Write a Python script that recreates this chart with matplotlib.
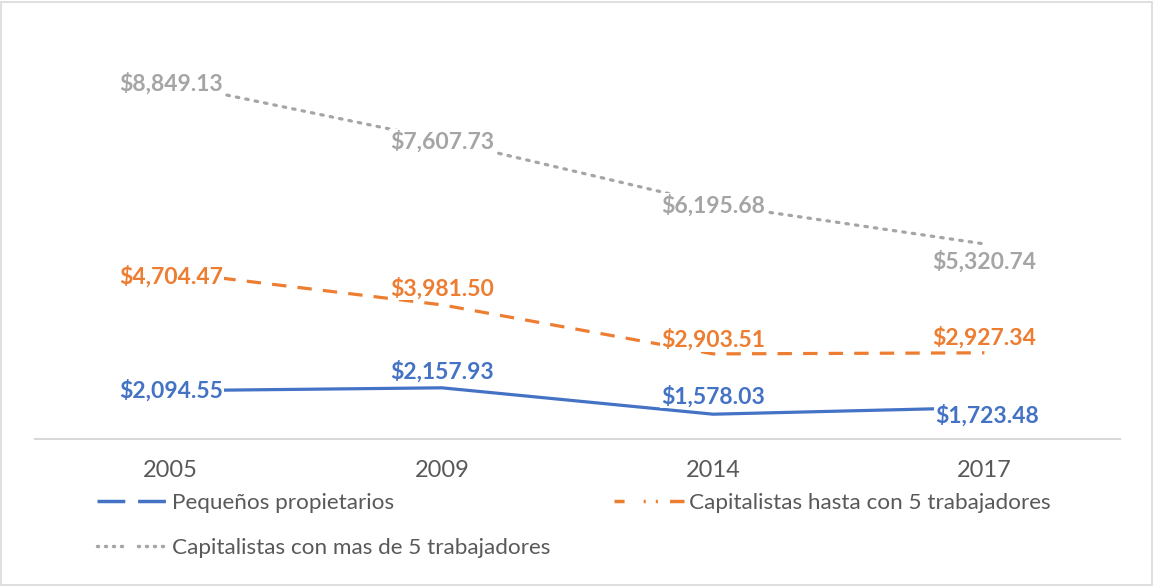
import matplotlib
matplotlib.use("Agg")
import matplotlib.pyplot as plt
from matplotlib.lines import Line2D
from matplotlib.patches import Rectangle

years = ["2005", "2009", "2014", "2017"]
pequenos = [2094.55, 2157.93, 1578.03, 1723.48]
hasta5 = [4704.47, 3981.50, 2903.51, 2927.34]
mas5 = [8849.13, 7607.73, 6195.68, 5320.74]

series_names = ["Pequeños propietarios",
                "Capitalistas hasta con 5 trabajadores",
                "Capitalistas con mas de 5 trabajadores"]
colors = ["#4472C4", "#ED7D31", "#A5A5A5"]

plt.rcParams['font.family'] = ['Lato', 'DejaVu Sans']

W, H = 1154, 586
fig = plt.figure(figsize=(W / 100, H / 100), dpi=100)
ax = fig.add_axes([35 / W, (H - 439) / H, (1120 - 35) / W, (439 - 20) / H])

x = list(range(len(years)))
ax.plot(x, pequenos, color=colors[0], lw=2.3, solid_capstyle='butt', zorder=2)
ax.plot(x, hasta5, color=colors[1], lw=2.3, dashes=(4.5, 3.5), zorder=2)
ax.plot(x, mas5, color=colors[2], lw=2.3, dashes=(0.8, 2.2), dash_capstyle='round', zorder=2)

ax.set_xlim(-0.5, 3.5)
ax.set_ylim(1033, 10242)

# label offsets in points (dx, dy)
offs = {
    0: [(0, 0), (0, 12), (0, 13), (2, -6)],
    1: [(0, -3), (0, 12), (0, 10), (0, 11)],
    2: [(0, 0), (0, -1), (0, -1), (0, -13)],
}
for si, vals in enumerate([pequenos, hasta5, mas5]):
    for i, v in enumerate(vals):
        dx, dy = offs[si][i]
        ax.annotate(f"${v:,.2f}", (i, v), xytext=(dx, dy), textcoords='offset points',
                    ha='center', va='center', fontsize=16.5, fontweight='bold',
                    color=colors[si], zorder=3,
                    bbox=dict(boxstyle='square,pad=0.05', fc='white', ec='none'))

for s in ['top', 'right', 'left']:
    ax.spines[s].set_visible(False)
ax.spines['bottom'].set_color('#D9D9D9')
ax.spines['bottom'].set_linewidth(1.5)
ax.set_yticks([])
ax.set_xticks(x)
ax.set_xticklabels(years, fontsize=17, color='#595959')
ax.tick_params(axis='x', length=0, pad=15)

handles = [
    Line2D([0], [0], color=colors[0], lw=2.5, dashes=(8, 3.7), solid_capstyle='butt'),
    Line2D([0], [0], color=colors[1], lw=2.5,
           dashes=(2.9, 5.5, 0.6, 2.9, 0.6, 3.5, 4.3, 0.1)),
    Line2D([0], [0], color=colors[2], lw=2.5,
           dashes=(0.3, 2.0, 0.3, 2.0, 0.3, 2.0, 0.3, 4.6), dash_capstyle='round'),
]
fs = 16.2
em = fs * 100 / 72
leg = fig.legend(handles[:2], series_names[:2], loc='center left',
                 bbox_to_anchor=(97 / W, 1 - 503 / H), ncol=2, frameon=False,
                 fontsize=fs, labelcolor='#595959', handlelength=70 / em,
                 handletextpad=5 / em, columnspacing=220 / em, borderpad=0,
                 borderaxespad=0)
leg2 = fig.legend(handles[2:], series_names[2:], loc='center left',
                  bbox_to_anchor=(97 / W, 1 - 548 / H), frameon=False,
                  fontsize=fs, labelcolor='#595959', handlelength=70 / em,
                  handletextpad=5 / em, borderpad=0, borderaxespad=0)

fig.patches.append(Rectangle((1 / W, 1 / H), (W - 3) / W, (H - 3) / H,
                             transform=fig.transFigure, fill=False,
                             ec='#D9D9D9', lw=1.2))

fig.savefig("out.png", dpi=100)
